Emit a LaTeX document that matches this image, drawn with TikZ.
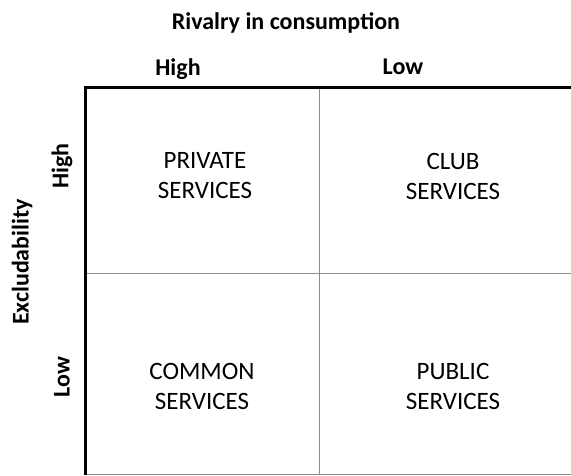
\documentclass[tikz,border=0pt]{standalone}
\usepackage{fontspec}
\setmainfont{Carlito}
\begin{document}
\begin{tikzpicture}[x=1pt,y=-1pt,
  frame/.style={line width=3pt,black},
  divider/.style={line width=0.9pt,black!45},
  axistitle/.style={inner sep=0pt,font=\bfseries\fontsize{24}{28}\selectfont},
  axislevel/.style={inner sep=0pt,font=\bfseries\fontsize{24}{28}\selectfont},
  cell/.style={inner sep=0pt,align=center,font=\fontsize{25}{30}\selectfont}]
\useasboundingbox (0,0) rectangle (571,475);
% quadrant grid
\coordinate (tl) at (85,87);
\coordinate (tr) at (571,87);
\coordinate (bl) at (85,475);
\coordinate (br) at (571,474);
\coordinate (vt) at (319,87);
\coordinate (vb) at (319,474);
\coordinate (hl) at (85,273);
\coordinate (hr) at (571,273);
\draw[divider] (vt) -- (vb);
\draw[divider] (hl) -- (hr);
\draw[divider] (bl |- br) -- (br);
\draw[frame] (tr) -- (tl) -- (bl);
% axis headings
\node[axistitle] (rival) at (286,23) {Rivalry in consumption};
\node[axislevel] (rhigh) at (178,69) {High};
\node[axislevel] (rlow) at (403,67) {Low};
\node[axistitle,rotate=90] (excl) at (22,262) {Excludability};
\node[axislevel,rotate=90] (ehigh) at (62,166) {High};
\node[axislevel,rotate=90] (elow) at (62,377) {Low};
% cells
\node[cell] (private) at (205,176) {PRIVATE\\SERVICES};
\node[cell] (club) at (453,176) {CLUB\\SERVICES};
\node[cell] (common) at (202,386) {COMMON\\SERVICES};
\node[cell] (public) at (453,386) {PUBLIC\\SERVICES};
\end{tikzpicture}
\end{document}
